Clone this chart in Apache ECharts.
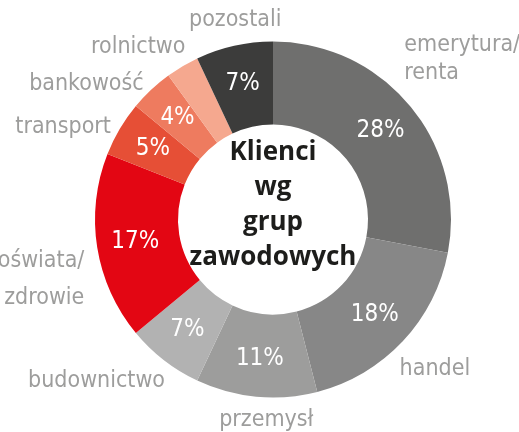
<!DOCTYPE html>
<html>
<head>
<meta charset="utf-8">
<title>Klienci wg grup zawodowych</title>
<script src="https://cdn.jsdelivr.net/npm/echarts@6/dist/echarts.min.js"></script>
<style>
  html, body { margin: 0; padding: 0; background: #fff; }
  #chart { width: 519px; height: 432px; }
</style>
</head>
<body>
<div id="chart"></div>
<script>
// dane
var categories = ['emerytura/\nrenta', 'handel', 'przemysł', 'budownictwo', '/oświata/\nzdrowie', 'transport', 'bankowość', 'rolnictwo', 'pozostali'];
var shares = [28, 18, 11, 7, 17, 5, 4, 3, 7];
var colors = ['#6f6f6e', '#878787', '#9d9d9c', '#b2b2b2', '#e30613', '#e64f36', '#ee7b5f', '#f5a88f', '#3c3c3b'];

// przesuniecia podpisow zewnetrznych (jak na oryginale)
var labelShift = [[-17, -42], [-14, 22], [63, 15], [11, 15], [0, 31], [3, 2], [3, 0], [12, -12], [54, -18]];

var narrow = '"Liberation Sans Narrow", "DejaVu Sans Condensed", "Roboto Condensed", sans-serif';

var chart = echarts.init(document.getElementById('chart'));

var slices = [];
var ghost = [];
for (var i = 0; i < categories.length; i++) {
  slices.push({ name: categories[i], value: shares[i], itemStyle: { color: colors[i] } });
  ghost.push({ name: categories[i], value: shares[i] });
}
// oswiata/zdrowie ma wiekszy odstep linii
ghost[4].label = { lineHeight: 37 };

var option = {
  animation: false,
  title: {
    text: 'Klienci\nwg\ngrup\nzawodowych',
    left: 273,
    top: 135,
    padding: 0,
    textAlign: 'center',
    textStyle: {
      fontFamily: '"Open Sans", sans-serif',
      fontWeight: 'bold',
      fontSize: 26,
      lineHeight: 35,
      color: '#1d1d1b'
    }
  },
  series: [
    {
      // pierscien z procentami
      type: 'pie',
      center: [273, 219.5],
      radius: [95, 178],
      startAngle: 90,
      clockwise: true,
      silent: true,
      avoidLabelOverlap: false,
      itemStyle: { borderWidth: 0 },
      label: {
        position: 'inside',
        formatter: '{c}%',
        color: '#fff',
        fontFamily: narrow,
        fontSize: 24
      },
      labelLine: { show: false },
      data: slices
    },
    {
      // nazwy grup na zewnatrz
      type: 'pie',
      center: [273, 219.5],
      radius: [95, 178],
      startAngle: 90,
      clockwise: true,
      silent: true,
      avoidLabelOverlap: false,
      itemStyle: { color: 'rgba(0,0,0,0)', borderWidth: 0 },
      label: {
        position: 'outside',
        formatter: '{b}',
        color: '#9d9d9c',
        fontFamily: narrow,
        fontSize: 23,
        lineHeight: 28
      },
      labelLine: { show: false, length: 8, length2: 0 },
      labelLayout: function (params) {
        var s = labelShift[params.dataIndex];
        return { dx: s[0], dy: s[1], hideOverlap: false };
      },
      data: ghost
    }
  ]
};

chart.setOption(option);
</script>
</body>
</html>
